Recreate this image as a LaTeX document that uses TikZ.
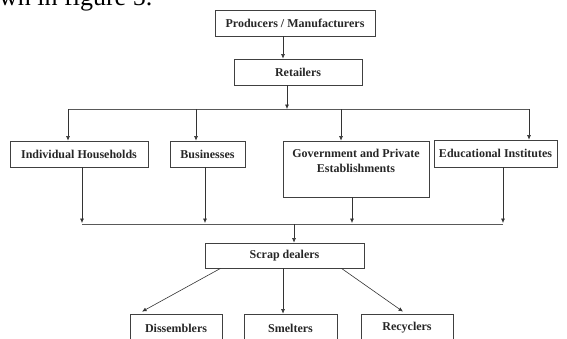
\documentclass[tikz,border=0pt]{standalone}
\usepackage{fontspec}
\setmainfont{Liberation Serif}
\usetikzlibrary{arrows.meta,positioning,calc}

\begin{document}
\begin{tikzpicture}[x=1pt,y=-1pt,
        Box/.style={
            draw=black!75,
            line width=0.8pt,
            rectangle,
            inner sep=0pt,
            font=\bfseries\fontsize{12}{14.4}\selectfont,
            text=black!85
        },
        Arr/.style={-{Latex[length=4.5pt,width=4pt]},line width=0.6pt,black!80},
        Lne/.style={line width=0.6pt,black!65}
    ]
    \useasboundingbox (0,0) rectangle (567,338);
    \clip (0,0) rectangle (567,338);

    %page text above the figure
    \node[anchor=base west,inner sep=0pt,font=\fontsize{26}{30}\selectfont] (pagetxt) at (-1,5) {wn in figure 5.};

    %boxes
    \node[Box,minimum width=160,minimum height=26] (prod) at (295,23) {Producers / Manufacturers};
    \node[Box,minimum width=128,minimum height=26] (ret) at (298,72) {Retailers};
    \node[Box,minimum width=138,minimum height=26] (ih) at (79,154) {Individual Households};
    \node[Box,minimum width=75,minimum height=26] (bus) at (207.5,154) {Businesses};
    \node[Box,minimum width=146,minimum height=56] (gov) at (356,169) {};
    \node[Box,draw=none,align=center,anchor=north] (govtxt) at (356,149) {Government and Private\\Establishments};
    \node[Box,minimum width=123,minimum height=27] (edu) at (495.5,153.5) {Educational Institutes};
    \node[Box,minimum width=159,minimum height=25] (scrap) at (284.5,255.5) {Scrap dealers};
    \node[Box,minimum width=92,minimum height=28] (dis) at (176,328) {Dissemblers};
    \node[Box,minimum width=93,minimum height=28] (sme) at (290.5,328) {Smelters};
    \node[Box,minimum width=92,minimum height=28] (rec) at (407,328) {Recyclers};

    %junction points
    \coordinate (p0) at (283,0);
    \coordinate (t0) at (287,109);
    \coordinate (t1) at (68,109);
    \coordinate (t2) at (196,109);
    \coordinate (t3) at (341,109);
    \coordinate (t4) at (529,109);
    \coordinate (b0) at (294,224);
    \coordinate (b1) at (82,224);
    \coordinate (b2) at (205,224);
    \coordinate (b3) at (352,224);
    \coordinate (b4) at (503,224);

    %connections
    \draw[Arr] (prod.south -| p0)--(ret.north -| p0);
    \draw[Arr] (ret.south -| t0)--(t0);
    \draw[Lne] (t1)--(t4);
    \foreach \i/\n in {1/ih,2/bus,3/gov,4/edu}
        \draw[Arr] (t\i)--(t\i |- \n.north);
    \foreach \i/\n in {1/ih,2/bus,3/gov,4/edu}
        \draw[Arr] (\n.south -| b\i)--($(b\i)+(0,-1)$);
    \draw[Lne] (b1)--(b4);
    \draw[Arr] (b0)--(b0 |- scrap.north);
    \draw[Arr] ([xshift=-64pt]scrap.south)--([xshift=-34pt,yshift=2pt]dis.north);
    \draw[Arr] ([xshift=-1.5pt]scrap.south)--([xshift=-1.5pt]scrap.south |- sme.north);
    \draw[Arr] ([xshift=57pt]scrap.south)--([xshift=-4pt,yshift=2pt]rec.north);

\end{tikzpicture}
\end{document}
